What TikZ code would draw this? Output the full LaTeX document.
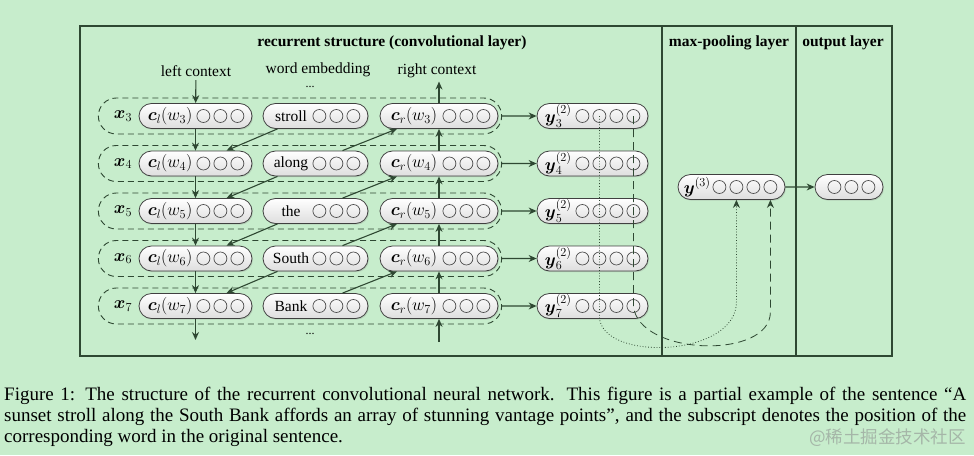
\documentclass[tikz,border=0pt]{standalone}
\usepackage{fix-cm}
\usepackage{amsmath}
\usepackage[no-math]{fontspec}
\setmainfont{Liberation Serif}
\newfontfamily\cjkfont{Noto Sans CJK SC}
\usepackage{xcolor}
\usepackage{tikz}
\usetikzlibrary{positioning,arrows.meta,calc,shapes.misc,shadows}
\definecolor{paper}{RGB}{199,237,204}
\definecolor{ink}{RGB}{46,72,50}
\definecolor{mark}{RGB}{165,182,168}

\begin{document}
\begin{tikzpicture}[x=1pt, y=-1pt,
      font=\fontsize{15.5}{18}\selectfont,
      box/.style={rounded rectangle, draw=black!75, line width=0.8pt, top color=white, bottom color=black!13, minimum height=25pt, inner sep=0pt, drop shadow={shadow xshift=1pt, shadow yshift=-1.2pt, opacity=0.25}},
      dot/.style={circle, draw=black!70, line width=0.7pt, minimum size=13pt, inner sep=0pt},
      lab/.style={anchor=west, inner sep=0pt, font=\fontsize{17.5}{20}\selectfont},
      row/.style={rounded rectangle, draw=ink, line width=0.9pt, dash pattern=on 6pt off 4pt, minimum width=410pt, minimum height=36pt},
      arr/.style={-{Stealth[length=8pt, width=7pt]}, draw=ink, line width=1.1pt},
      head/.style={font=\fontsize{15.5}{18}\selectfont\bfseries}]
    \fill[paper] (0,0) rectangle (974,455);
    % frame and layer dividers
    \draw[ink, line width=1.1pt] (80,26) rectangle (892,356);
    \draw[ink, line width=1.1pt] (662,26) -- (662,356) (796,26) -- (796,356);
    \node[head] (tconv) at (392,43) {recurrent structure (convolutional layer)};
    \node[head] (tpool) at (729,43) {max-pooling layer};
    \node[head] (tout) at (843,43) {output layer};
    \node (lc) at (196,71) {left context};
    \node[inner sep=1pt] (we) at (318,70) {word embedding};
    \node (rc) at (437,71) {right context};
    \node[inner sep=0pt, font=\fontsize{12}{14}\selectfont] (dt) at (310,87) {...};
    \node[inner sep=0pt, font=\fontsize{12}{14}\selectfont] (db) at (310,334) {...};
    % one row per word
    \foreach \i/\w [count=\k from 0] in {3/stroll,4/along,5/the,6/South,7/Bank} {
      \pgfmathsetmacro\yy{116+47.5*\k}
      \node[row] (r\i) at (300,\yy) {};
      \node[lab, anchor=center] (x\i) at (123,\yy) {$\boldsymbol{x}_\i$};
      \node[box, minimum width=113pt] (l\i) at (195.5,\yy) {};
      \node[box, minimum width=105pt] (w\i) at (315.5,\yy) {};
      \node[box, minimum width=118pt] (c\i) at (439,\yy) {};
      \node[box, minimum width=111pt] (y\i) at (592.5,\yy) {};
      \node[lab] at ($(l\i.west)+(9,0)$) {$\boldsymbol{c}_l(w_\i)$};
      \node at ($(w\i)+(-24.5,0)$) {\w};
      \node[lab] at ($(c\i.west)+(11,0)$) {$\boldsymbol{c}_r(w_\i)$};
      \node[lab] at ($(y\i.west)+(8,0)$) {$\boldsymbol{y}^{(2)}_\i$};
      \foreach \j in {1,2,3} {
        \node[dot] at ($(l\i.east)+(-66+17*\j,0)$) {};
        \node[dot] at ($(w\i.east)+(-66+17*\j,0)$) {};
        \node[dot] at ($(c\i.east)+(-66+17*\j,0)$) {};
      }
      \foreach \j in {1,...,4}
        \node[dot] (y\i-\j) at ($(y\i.east)+(-83+17*\j,0)$) {};
      \draw[arr] (r\i) -- (y\i);
    }
    % context chains
    \coordinate (lend) at (195.5,340);
    \coordinate (rbeg) at (439,342);
    \draw[arr] (lc) -- (l3);
    \draw[arr] (l7) -- (lend);
    \draw[arr] (rbeg) -- (c7);
    \draw[arr] (c3) -- (c3 |- rc.south);
    \foreach \i/\n in {3/4,4/5,5/6,6/7} {
      \draw[arr] (l\i) -- (l\n);
      \draw[arr] (c\n) -- (c\i);
      \draw[arr] ($(w\i.south)+(-38,0)$) -- ($(l\n.north)+(31,0)$);
      \draw[arr] ($(w\n.north)+(27,0)$) -- ($(c\i.south)+(-42,0)$);
    }
    % pooling and output
    \node[box, minimum width=107pt] (pool) at (731.5,187) {};
    \node[lab] at ($(pool.west)+(6,0)$) {$\boldsymbol{y}^{(3)}$};
    \foreach \j in {1,...,4}
      \node[dot] (p\j) at ($(pool.east)+(-83+17*\j,0)$) {};
    \node[box, minimum width=68pt] (out) at (849,187) {};
    \foreach \j in {1,2,3}
      \node[dot] at ($(out.east)+(-66+17*\j,0)$) {};
    \draw[arr] (pool) -- (out);
    \draw[arr, line width=0.8pt, dotted] (y3-2.center) -- (y7-2.center) -- ++(0,10)
      .. controls +(0,46) and +(0,56) .. ($(p2)+(0,115)$) -- (p2 |- pool.south);
    \draw[arr, line width=0.8pt, dash pattern=on 8pt off 5pt] (y3-4.center) -- (y7-4.center)
      .. controls +(5,50) and +(0,48) .. ($(p4)+(0,125)$) -- (p4 |- pool.south);
    % caption
    \node[anchor=north west, inner sep=0pt, text width=962pt, align=justify,
      font=\fontsize{19}{21}\selectfont] (cap) at (4,387) {Figure 1: The structure of the recurrent convolutional neural network. This figure is a partial example of the sentence “A\linebreak sunset stroll along the South Bank affords an array of stunning vantage points”, and the subscript denotes the position of the\linebreak corresponding word in the original sentence.};
    \node[anchor=east, inner sep=0pt, text=mark, font=\cjkfont\fontsize{17.5}{20}\selectfont] (wm) at (966,438) {@稀土掘金技术社区};
  \end{tikzpicture}
\end{document}
